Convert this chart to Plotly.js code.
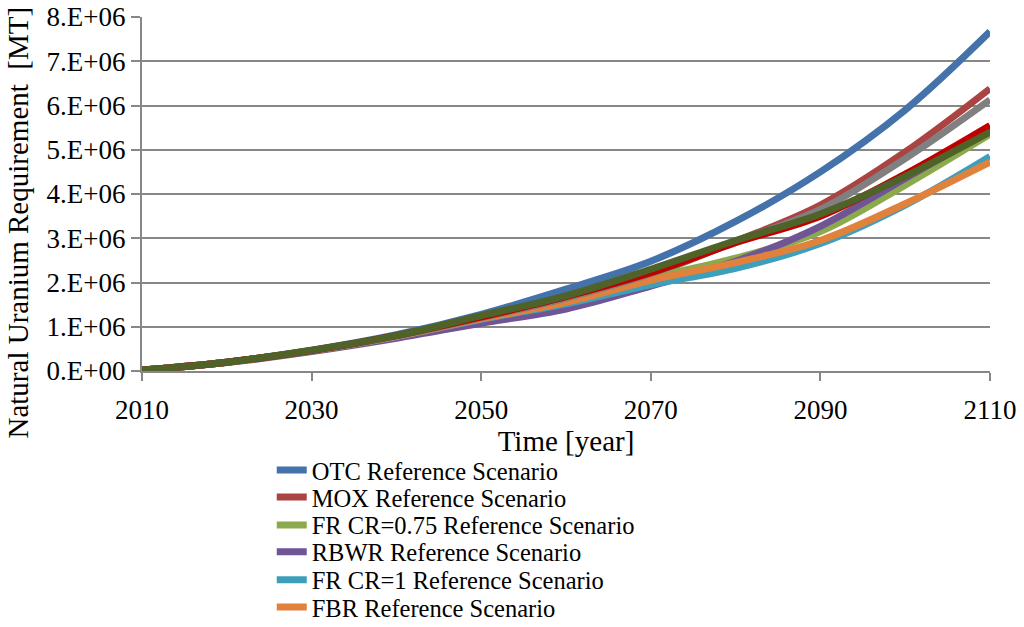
<!DOCTYPE html>
<html>
<head>
<meta charset="utf-8">
<script src="https://cdn.plot.ly/plotly-3.0.1.min.js"></script>
<style>
  html, body { margin: 0; padding: 0; background: #fff; }
  #myDiv { width: 1024px; height: 627px; }
</style>
</head>
<body>
<div id="myDiv"></div>
<script>
// years on the x axis
var years = [2010, 2020, 2030, 2040, 2050, 2060, 2070, 2080, 2090, 2100, 2110];

// natural uranium requirement [MT]
var otc       = [0.02e6, 0.20e6, 0.47e6, 0.82e6, 1.28e6, 1.85e6, 2.48e6, 3.38e6, 4.50e6, 5.90e6, 7.67e6];
var mox       = [0.02e6, 0.20e6, 0.46e6, 0.79e6, 1.18e6, 1.62e6, 2.18e6, 2.93e6, 3.75e6, 4.95e6, 6.38e6];
var frCr075   = [0.02e6, 0.20e6, 0.46e6, 0.78e6, 1.15e6, 1.58e6, 2.10e6, 2.55e6, 3.15e6, 4.20e6, 5.35e6];
var rbwr      = [0.02e6, 0.19e6, 0.44e6, 0.74e6, 1.08e6, 1.40e6, 1.92e6, 2.48e6, 3.27e6, 4.35e6, 5.45e6];
var frCr1     = [0.02e6, 0.20e6, 0.46e6, 0.78e6, 1.17e6, 1.52e6, 1.95e6, 2.32e6, 2.88e6, 3.75e6, 4.85e6];
var fbr       = [0.02e6, 0.20e6, 0.46e6, 0.78e6, 1.18e6, 1.55e6, 2.05e6, 2.45e6, 2.95e6, 3.78e6, 4.72e6];
// three extra series that have no legend entry
var extraGray  = [0.02e6, 0.20e6, 0.46e6, 0.79e6, 1.20e6, 1.65e6, 2.20e6, 2.92e6, 3.65e6, 4.80e6, 6.13e6];
var extraRed   = [0.02e6, 0.20e6, 0.46e6, 0.80e6, 1.22e6, 1.68e6, 2.22e6, 2.90e6, 3.50e6, 4.45e6, 5.55e6];
var extraGreen = [0.02e6, 0.20e6, 0.47e6, 0.80e6, 1.25e6, 1.70e6, 2.30e6, 2.95e6, 3.55e6, 4.40e6, 5.40e6];

var xTickVals = [2010, 2030, 2050, 2070, 2090, 2110];
var yTickVals = [0, 1e6, 2e6, 3e6, 4e6, 5e6, 6e6, 7e6, 8e6];
var yTickText = ['0.E+00', '1.E+06', '2.E+06', '3.E+06', '4.E+06', '5.E+06', '6.E+06', '7.E+06', '8.E+06'];

var serif = '"Liberation Serif", "Times New Roman", serif';
var tickFont = { family: serif, size: 27, color: '#000' };
var titleFont = { family: serif, size: 29, color: '#000' };
var legendFont = { family: serif, size: 24.5, color: '#000' };

function series(name, y, color, legendId) {
    return {
        x: years,
        y: y,
        name: name,
        mode: 'lines',
        type: 'scatter',
        showlegend: legendId !== null,
        legend: legendId || 'legend',
        line: {
            color: color,
            width: 7,
            shape: 'spline',
            smoothing: 1
        }
    };
}

var data = [
    series('OTC Reference Scenario', otc, '#4472AA', 'legend'),
    series('MOX Reference Scenario', mox, '#AA4442', 'legend2'),
    series('FR CR=0.75 Reference Scenario', frCr075, '#8CAA4D', 'legend3'),
    series('RBWR Reference Scenario', rbwr, '#6F5596', 'legend4'),
    series('FR CR=1 Reference Scenario', frCr1, '#3E9FBD', 'legend5'),
    series('FBR Reference Scenario', fbr, '#E0823C', 'legend6'),
    series('Gray', extraGray, '#808080', null),
    series('Dark red', extraRed, '#C00000', null),
    series('Dark green', extraGreen, '#4F6228', null)
];

// one small legend per entry so the rows sit as tight as in the picture
function legendRow(yPaper) {
    return {
        x: 0.153,
        y: yPaper,
        xanchor: 'left',
        yanchor: 'middle',
        font: legendFont,
        bgcolor: 'rgba(0,0,0,0)',
        borderwidth: 0
    };
}

var layout = {
    width: 1024,
    height: 627,
    margin: { l: 142, r: 34, t: 17, b: 256, autoexpand: false },
    paper_bgcolor: '#fff',
    plot_bgcolor: '#fff',
    font: tickFont,
    showlegend: true,
    legend: legendRow(-0.280),
    legend2: legendRow(-0.356),
    legend3: legendRow(-0.435),
    legend4: legendRow(-0.511),
    legend5: legendRow(-0.590),
    legend6: legendRow(-0.667),
    xaxis: {
        range: [2010, 2110],
        tickvals: xTickVals,
        ticks: 'outside',
        ticklen: 8,
        tickwidth: 2,
        tickcolor: '#878787',
        ticklabelstandoff: 6,
        showgrid: false,
        zeroline: false,
        showline: true,
        linecolor: '#878787',
        linewidth: 2,
        tickfont: tickFont,
        title: { text: 'Time [year]', font: titleFont, standoff: 0 }
    },
    yaxis: {
        range: [0, 8e6],
        tickvals: yTickVals,
        ticktext: yTickText,
        ticks: 'outside',
        ticklen: 9,
        tickwidth: 2,
        tickcolor: '#878787',
        showgrid: true,
        gridcolor: '#878787',
        gridwidth: 2,
        zeroline: false,
        showline: true,
        linecolor: '#878787',
        linewidth: 2,
        tickfont: tickFont
    },
    annotations: [{
        text: 'Natural Uranium Requirement  [MT]',
        xref: 'paper',
        yref: 'paper',
        x: -0.146,
        y: 0.42,
        xanchor: 'center',
        yanchor: 'middle',
        textangle: -90,
        showarrow: false,
        font: titleFont
    }]
};

var config = {
    displayModeBar: false,
    responsive: false
};

Plotly.newPlot('myDiv', data, layout, config);
</script>
</body>
</html>
